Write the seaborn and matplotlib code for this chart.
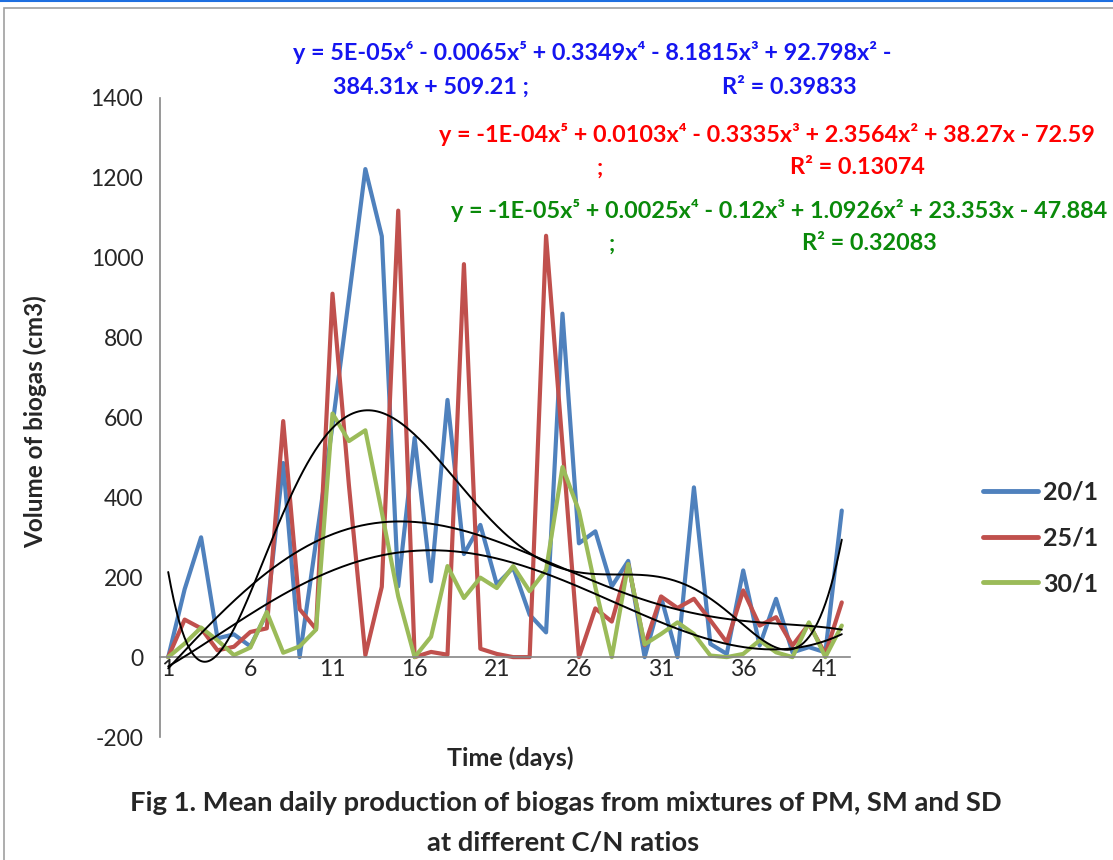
import numpy as np
import pandas as pd
import matplotlib
matplotlib.use("Agg")
import matplotlib.pyplot as plt
import seaborn as sns
from matplotlib.lines import Line2D
from matplotlib.patches import Rectangle

# ---------------- data ----------------
days = list(range(1, 43))
cn_20 = [0, 170, 300, 47, 57, 27, 110, 486, 0, 290, 580, 900, 1222, 1054, 177, 549,
         190, 644, 258, 331, 182, 224, 106, 62, 860, 285, 315, 177, 241, 0, 150, 0,
         425, 33, 8, 217, 29, 146, 12, 25, 12, 367]
cn_25 = [0, 94, 72, 17, 26, 63, 72, 591, 120, 70, 910, 430, 5, 176, 1118, 0,
         13, 6, 984, 21, 8, 0, 0, 1055, 530, 0, 122, 89, 233, 30, 152, 123,
         146, 92, 37, 167, 79, 100, 29, 83, 8, 137]
cn_30 = [0, 34, 74, 42, 5, 24, 113, 11, 27, 69, 610, 541, 568, 363, 152, 0,
         51, 228, 148, 199, 173, 228, 165, 218, 476, 366, 175, 0, 233, 32, 58, 87,
         58, 4, 0, 8, 42, 12, 0, 87, 0, 79]
series_names = ["20/1", "25/1", "30/1"]
trend_degrees = [6, 5, 5]
x_tick_labels = ["1", "6", "11", "16", "21", "26", "31", "36", "41"]
y_ticks = [-200, 0, 200, 400, 600, 800, 1000, 1200, 1400]

eq_blue_1 = "y = 5E-05x⁶ - 0.0065x⁵ + 0.3349x⁴ - 8.1815x³ + 92.798x² -"
eq_blue_2 = "384.31x + 509.21 ;"
r2_blue = "R² = 0.39833"
eq_red_1 = "y = -1E-04x⁵ + 0.0103x⁴ - 0.3335x³ + 2.3564x² + 38.27x - 72.59"
r2_red = "R² = 0.13074"
eq_green_1 = "y = -1E-05x⁵ + 0.0025x⁴ - 0.12x³ + 1.0926x² + 23.353x - 47.884"
r2_green = "R² = 0.32083"

# ---------------- style ----------------
line_colors = ["#4F81BD", "#C0504D", "#9BBB59"]
text_colors = ["#1515F0", "#FF0000", "#0A8A0A"]
axis_gray = "#868686"

sns.set_style("white")
plt.rcParams['font.family'] = ['Lato', 'DejaVu Sans']
plt.rcParams['axes.unicode_minus'] = False

W, H = 1113, 860
fig = plt.figure(figsize=(W / 100, H / 100), dpi=100)
fig.patch.set_facecolor("white")

def fx(px):
    return px / W

def fy(py):
    return 1 - py / H

ax = fig.add_axes([fx(160), fy(737), fx(850) - fx(160), fy(98) - fy(737)])

df = pd.DataFrame({
    "day": days * 3,
    "volume": cn_20 + cn_25 + cn_30,
    "ratio": [n for n in series_names for _ in days],
})
sns.lineplot(data=df, x="day", y="volume", hue="ratio", palette=line_colors,
             linewidth=3.0, ax=ax, legend=False)

xf = np.linspace(1, 42, 500)
for vals, deg in zip([cn_20, cn_25, cn_30], trend_degrees):
    coef = np.polyfit(days, vals, deg)
    ax.plot(xf, np.polyval(coef, xf), color="black", lw=1.4, zorder=5)

ax.set_xlim(0.5, 42.5)
ax.set_ylim(-200, 1400)
ax.set_xlabel("")
ax.set_ylabel("")

for s in ["top", "right"]:
    ax.spines[s].set_visible(False)
ax.spines["left"].set_color(axis_gray)
ax.spines["bottom"].set_color(axis_gray)
ax.spines["left"].set_linewidth(1.2)
ax.spines["bottom"].set_linewidth(1.2)
ax.spines["bottom"].set_position(("data", 0))

label_pos = [int(t) for t in x_tick_labels]
ax.set_xticks(label_pos)
ax.set_xticklabels(x_tick_labels)
ax.set_xticks(np.arange(0.5, 43, 1.0), minor=True)
ax.tick_params(axis="x", which="major", length=0, pad=1, labelsize=16.5)
ax.tick_params(axis="x", which="minor", length=6, width=1.2, color=axis_gray, direction="out")
ax.set_yticks(y_ticks)
ax.tick_params(axis="y", length=6, width=1.2, color=axis_gray, direction="out", labelsize=16.5, pad=6)
ax.grid(False)

# legend
handles = [Line2D([0], [0], color=c, lw=3.5) for c in line_colors]
fig.legend(handles, series_names, loc="center left", bbox_to_anchor=(fx(983), fy(538)),
           frameon=False, handlelength=2.2, handletextpad=0.2, labelspacing=0.9,
           borderpad=0, borderaxespad=0, prop={"weight": "bold", "size": 18})

# axis titles and caption
fig.text(fx(35), fy(422), "Volume of biogas (cm3)", rotation=90, ha="center", va="center",
         fontsize=17.5, fontweight="bold")
fig.text(fx(510), fy(758), "Time (days)", ha="center", va="center", fontsize=18, fontweight="bold")
fig.text(fx(566), fy(803), "Fig 1. Mean daily production of biogas from mixtures of PM, SM and SD",
         ha="center", va="center", fontsize=19.7, fontweight="bold")
fig.text(fx(563), fy(843), "at different C/N ratios", ha="center", va="center",
         fontsize=19.7, fontweight="bold")

# trendline equations
eqs = 16.8
fig.text(fx(293), fy(53), eq_blue_1, ha="left", va="center", fontsize=eqs, fontweight="bold", color=text_colors[0])
fig.text(fx(333), fy(87), eq_blue_2, ha="left", va="center", fontsize=eqs, fontweight="bold", color=text_colors[0])
fig.text(fx(722), fy(87), r2_blue, ha="left", va="center", fontsize=eqs, fontweight="bold", color=text_colors[0])
fig.text(fx(1095), fy(135), eq_red_1, ha="right", va="center", fontsize=eqs, fontweight="bold", color=text_colors[1])
fig.text(fx(600), fy(168), ";", ha="center", va="center", fontsize=eqs, fontweight="bold", color=text_colors[1])
fig.text(fx(790), fy(168), r2_red, ha="left", va="center", fontsize=eqs, fontweight="bold", color=text_colors[1])
fig.text(fx(1107), fy(211), eq_green_1, ha="right", va="center", fontsize=eqs, fontweight="bold", color=text_colors[2])
fig.text(fx(612), fy(244), ";", ha="center", va="center", fontsize=eqs, fontweight="bold", color=text_colors[2])
fig.text(fx(802), fy(244), r2_green, ha="left", va="center", fontsize=eqs, fontweight="bold", color=text_colors[2])

# page frame
fig.add_artist(Rectangle((fx(4), -0.05), 1.2, fy(8) + 0.05, transform=fig.transFigure,
                         fill=False, edgecolor="#A0A0A0", lw=1.2))
fig.add_artist(Line2D([0, 1], [fy(1), fy(1)], transform=fig.transFigure, color="#1E6FE0", lw=1.5))

fig.savefig("out.png", dpi=100)
